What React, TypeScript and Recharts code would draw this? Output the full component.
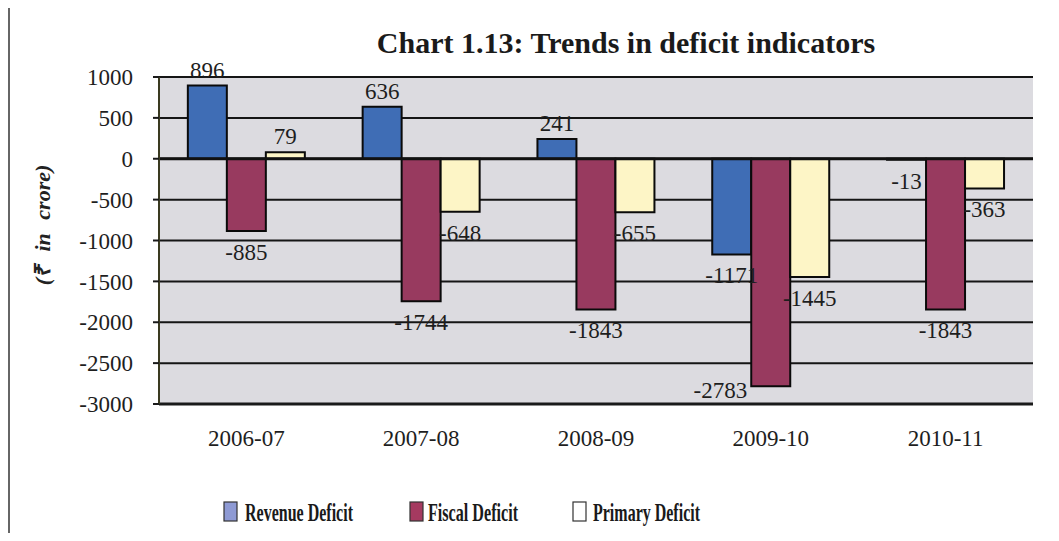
import React from 'react';
import { BarChart, Bar, XAxis, YAxis, CartesianGrid, ReferenceLine, LabelList, Legend } from 'recharts';

const years = ['2006-07', '2007-08', '2008-09', '2009-10', '2010-11'];
const revenueDeficit = [896, 636, 241, -1171, -13];
const fiscalDeficit = [-885, -1744, -1843, -2783, -1843];
const primaryDeficit = [79, -648, -655, -1445, -363];
const yTicks = [1000, 500, 0, -500, -1000, -1500, -2000, -2500, -3000];
const seriesNames = ['Revenue Deficit', 'Fiscal Deficit', 'Primary Deficit'];

const data = years.map((year, i) => ({
  year,
  rd: revenueDeficit[i],
  fd: fiscalDeficit[i],
  pd: primaryDeficit[i],
}));

const SERIF = "'Liberation Serif', 'Times New Roman', Times, serif";
const W = 1059;
const H = 541;
const MARGIN = { top: 77, right: 26, left: 0, bottom: 0 };
const LEGEND_H = 40;
const XAXIS_H = 97;
const PLOT_BOTTOM = H - LEGEND_H - XAXIS_H;
const tickStyle = { fontFamily: SERIF, fontSize: 23, fill: '#1e1e1e' };

const renderLabel = (props: any) => {
  const { x, y, width, height, value } = props;
  const top = Math.min(y, y + height);
  const bottom = Math.max(y, y + height);
  let cx = x + width / 2;
  let ty = value >= 0 ? top - 8 : bottom + 29;
  let anchor: any = 'middle';
  if (value < 0 && ty > PLOT_BOTTOM - 2) {
    cx = x - 4;
    ty = bottom + 12;
    anchor = 'end';
  }
  return (
    <text x={cx} y={ty} textAnchor={anchor} style={{ fontFamily: SERIF, fontSize: 23 }} fill="#1e1e1e">
      {value}
    </text>
  );
};

const legendIconColors = ['#8e9ad4', '#a53a60', '#ffffff'];
const legendLayout = [
  { ix: 224, tx: 245, tl: 108 },
  { ix: 410, tx: 428, tl: 90 },
  { ix: 573, tx: 593, tl: 107 },
];

const renderLegend = () => (
  <svg width={W} height={LEGEND_H} style={{ display: 'block' }}>
    {seriesNames.map((name, i) => (
      <g key={name}>
        <rect x={legendLayout[i].ix} y={12} width={13} height={19} fill={legendIconColors[i]} stroke="#333" strokeWidth={1.2} />
        <text
          x={legendLayout[i].tx}
          y={31}
          style={{ fontFamily: SERIF, fontWeight: 'bold', fontSize: 26 }}
          fill="#1a1a1a"
          textLength={legendLayout[i].tl}
          lengthAdjust="spacingAndGlyphs"
        >
          {name}
        </text>
      </g>
    ))}
  </svg>
);

const renderYLabel = () => (
  <text
    x={42}
    y={225}
    transform="rotate(-90 42 225)"
    textAnchor="middle"
    dominantBaseline="central"
    style={{ fontFamily: SERIF, fontStyle: 'italic', fontWeight: 'bold', fontSize: 22, wordSpacing: 8 }}
    fill="#222"
  >
    (₹ in crore)
  </text>
);

export default function App() {
  return (
    <div style={{ position: 'relative', width: W, height: H, margin: -8, background: '#fff', overflow: 'hidden', fontFamily: SERIF }}>
      <div style={{ position: 'absolute', left: 8, top: 4, width: W - 8, height: 2, background: '#666' }} />
      <div style={{ position: 'absolute', left: 8, top: 4, width: 2, height: H - 4, background: '#666' }} />
      <div
        style={{
          position: 'absolute',
          left: 0,
          width: W,
          top: 24,
          textAlign: 'center',
          paddingLeft: 193,
          boxSizing: 'border-box',
          fontFamily: SERIF,
          fontWeight: 'bold',
          fontSize: 30,
          color: '#1a1a1a',
          lineHeight: '38px',
        }}
      >
        Chart 1.13: Trends in deficit indicators
      </div>
      <div style={{ position: 'absolute', left: 0, top: 0 }}>
        <BarChart width={W} height={H} data={data} margin={MARGIN} barCategoryGap="16.5%" barGap={0} style={{ fontFamily: SERIF }}>
          <CartesianGrid vertical={false} stroke="#151515" strokeWidth={2} fill="#dcdbe0" fillOpacity={1} />
          <XAxis
            dataKey="year"
            height={XAXIS_H}
            tickLine={false}
            tickSize={0}
            tickMargin={26}
            axisLine={{ stroke: '#1a1a1a', strokeWidth: 3 }}
            tick={{ ...tickStyle, style: { fontFamily: SERIF } }}
            interval={0}
          />
          <YAxis
            width={159}
            domain={[-3000, 1000]}
            ticks={yTicks}
            interval={0}
            tickSize={6}
            tickMargin={20}
            tickLine={{ stroke: '#1a1a1a', strokeWidth: 2 }}
            axisLine={{ stroke: '#3a3a20', strokeWidth: 2 }}
            tick={{ ...tickStyle, style: { fontFamily: SERIF } }}
            label={{ content: renderYLabel }}
          />
          <YAxis
            yAxisId="frame"
            orientation="right"
            width={0}
            tick={false}
            tickLine={false}
            axisLine={{ stroke: '#8a8a8a', strokeWidth: 1.5 }}
            domain={[-3000, 1000]}
          />
          <ReferenceLine y={0} stroke="#111" strokeWidth={3} />
          <Legend
            verticalAlign="bottom"
            content={renderLegend}
            wrapperStyle={{ position: 'absolute', top: 490, bottom: 'auto', left: 0, width: W, height: LEGEND_H }}
          />
          <Bar dataKey="rd" name={seriesNames[0]} fill="#3f6db5" stroke="#0a0a0a" strokeWidth={2} isAnimationActive={false}>
            <LabelList dataKey="rd" content={renderLabel} />
          </Bar>
          <Bar dataKey="fd" name={seriesNames[1]} fill="#983a5f" stroke="#0a0a0a" strokeWidth={2} isAnimationActive={false}>
            <LabelList dataKey="fd" content={renderLabel} />
          </Bar>
          <Bar dataKey="pd" name={seriesNames[2]} fill="#fdf5c6" stroke="#0a0a0a" strokeWidth={2} isAnimationActive={false}>
            <LabelList dataKey="pd" content={renderLabel} />
          </Bar>
        </BarChart>
      </div>
    </div>
  );
}
